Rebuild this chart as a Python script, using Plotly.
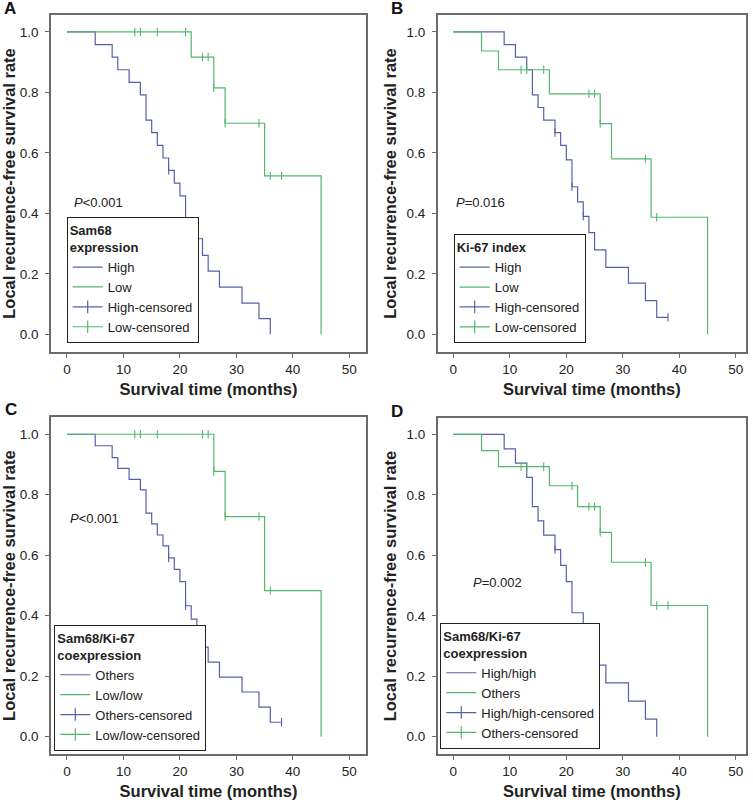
import plotly.graph_objects as go

# ---------------- data ----------------
# Panel A: Sam68 expression
A_high_t = [5, 8, 9, 11, 13, 14, 15, 16, 17, 18, 19, 20, 21, 23, 24, 25, 27, 31, 34, 36]
A_high_s = [0.958, 0.917, 0.875, 0.833, 0.792, 0.708, 0.667, 0.625, 0.583, 0.542, 0.5, 0.458,
            0.361, 0.316, 0.261, 0.209, 0.156, 0.103, 0.052, 0.0]
A_high_ct = [18, 23]
A_high_cs = [0.542, 0.316]
A_low_t = [22, 26, 28, 35, 45]
A_low_s = [0.917, 0.815, 0.698, 0.524, 0.0]
A_low_ct = [12, 13, 16, 21, 24, 25, 26, 28, 34, 36, 38]
A_low_cs = [1, 1, 1, 1, 0.917, 0.917, 0.815, 0.698, 0.698, 0.524, 0.524]

# Panel B: Ki-67 index
B_high_t = [9, 11, 13, 14, 15, 16, 18, 19, 20, 21, 22, 23, 24, 25, 27, 31, 34, 36, 38]
B_high_s = [0.958, 0.917, 0.875, 0.792, 0.75, 0.708, 0.667, 0.625, 0.577, 0.488, 0.438, 0.39,
            0.336, 0.279, 0.221, 0.169, 0.111, 0.056, 0.056]
B_high_ct = [18, 21, 23, 38]
B_high_cs = [0.667, 0.488, 0.39, 0.056]
B_low_t = [5, 8, 17, 26, 28, 35, 45]
B_low_s = [0.937, 0.875, 0.795, 0.697, 0.58, 0.387, 0.0]
B_low_ct = [12, 13, 16, 24, 25, 26, 34, 36]
B_low_cs = [0.875, 0.875, 0.875, 0.795, 0.795, 0.697, 0.58, 0.387]

# Panel C: Sam68/Ki-67 coexpression (Others vs Low/low)
C_oth_t = [5, 8, 9, 11, 13, 14, 15, 16, 17, 18, 19, 20, 21, 22, 23, 24, 25, 27, 31, 34, 36, 38]
C_oth_s = [0.962, 0.923, 0.887, 0.851, 0.816, 0.739, 0.704, 0.667, 0.631, 0.591, 0.553, 0.513,
           0.433, 0.389, 0.345, 0.296, 0.247, 0.197, 0.148, 0.098, 0.048, 0.048]
C_oth_ct = [18, 21, 23, 38]
C_oth_cs = [0.591, 0.433, 0.345, 0.048]
C_low_t = [26, 28, 35, 45]
C_low_s = [0.877, 0.728, 0.483, 0.0]
C_low_ct = [12, 13, 16, 24, 25, 26, 28, 34, 36]
C_low_cs = [1, 1, 1, 1, 1, 0.877, 0.728, 0.728, 0.483]

# Panel D: Sam68/Ki-67 coexpression (High/high vs Others)
D_hh_t = [9, 11, 13, 14, 15, 16, 18, 19, 20, 21, 23, 24, 25, 27, 31, 34, 36]
D_hh_s = [0.952, 0.905, 0.858, 0.761, 0.714, 0.667, 0.619, 0.567, 0.513, 0.41, 0.36, 0.299,
          0.237, 0.178, 0.118, 0.058, 0.0]
D_hh_ct = [18, 23]
D_hh_cs = [0.619, 0.36]
D_oth_t = [5, 8, 17, 22, 26, 28, 35, 45]
D_oth_s = [0.946, 0.893, 0.83, 0.761, 0.676, 0.577, 0.434, 0.0]
D_oth_ct = [12, 13, 16, 21, 24, 25, 26, 34, 36, 38]
D_oth_cs = [0.893, 0.893, 0.893, 0.83, 0.761, 0.761, 0.676, 0.577, 0.434, 0.434]

x_ticks = [0, 10, 20, 30, 40, 50]
y_ticks = [0.0, 0.2, 0.4, 0.6, 0.8, 1.0]

panel_labels = ["A", "B", "C", "D"]
legend_titles = ["Sam68<br>expression", "Ki-67 index", "Sam68/Ki-67<br>coexpression",
                 "Sam68/Ki-67<br>coexpression"]
group_names = [("High", "Low"), ("High", "Low"), ("Others", "Low/low"), ("High/high", "Others")]
p_texts = ["<i>P</i>&lt;0.001", "<i>P</i>=0.016", "<i>P</i>&lt;0.001", "<i>P</i>=0.002"]
p_pos = [(0.9, 0.435), (0.2, 0.435), (0.25, 0.722), (3.1, 0.509)]

# ---------------- style ----------------
BLUE = "#5660aa"
GREEN = "#52b86c"
FONT = "Liberation Sans, Arial, sans-serif"
FRAME = "#6b6b6b"

W, H = 753, 800
# plot frames in pixels: (left, right, top, bottom)
frames = [(51, 366, 15, 352), (437.7, 746, 15, 352), (51, 366, 417.3, 754), (437.7, 746, 418, 754)]
xranges = [(-2.83, 52.95), (-2.76, 51.8), (-2.83, 52.95), (-2.76, 51.8)]
yranges = [(-0.0586, 1.056), (-0.0586, 1.056), (-0.057, 1.056), (-0.057, 1.054)]
legend_pos = [(66.7, 343.3), (453.7, 343.3), (54.3, 751), (440.3, 749)]   # left, bottom
label_pos = [(2, 9), (389, 9), (3, 410), (389, 411)]

panels = [
    (A_high_t, A_high_s, A_high_ct, A_high_cs, A_low_t, A_low_s, A_low_ct, A_low_cs),
    (B_high_t, B_high_s, B_high_ct, B_high_cs, B_low_t, B_low_s, B_low_ct, B_low_cs),
    (C_oth_t, C_oth_s, C_oth_ct, C_oth_cs, C_low_t, C_low_s, C_low_ct, C_low_cs),
    (D_hh_t, D_hh_s, D_hh_ct, D_hh_cs, D_oth_t, D_oth_s, D_oth_ct, D_oth_cs),
]

fig = go.Figure()
layout = {}
annotations = []

for i, (t1, s1, ct1, cs1, t2, s2, ct2, cs2) in enumerate(panels):
    n = i + 1
    xa = "x" if n == 1 else f"x{n}"
    ya = "y" if n == 1 else f"y{n}"
    lg = "legend" if n == 1 else f"legend{n}"
    g1, g2 = group_names[i]
    for (t, s, ct, cs, col, name) in [(t1, s1, ct1, cs1, BLUE, g1), (t2, s2, ct2, cs2, GREEN, g2)]:
        fig.add_trace(go.Scatter(
            x=[0] + t, y=[1.0] + s, mode="lines", line=dict(color=col, width=1.2, shape="hv"),
            name=name, xaxis=xa, yaxis=ya, legend=lg, showlegend=False, hoverinfo="skip"))
        fig.add_trace(go.Scatter(
            x=ct, y=cs, mode="markers",
            marker=dict(symbol="line-ns", size=6, line=dict(color=col, width=1.1), color=col),
            name=name + "-censored", xaxis=xa, yaxis=ya, legend=lg, showlegend=False,
            hoverinfo="skip"))
    # legend entries
    for (col, name) in [(BLUE, g1), (GREEN, g2)]:
        fig.add_trace(go.Scatter(x=[None], y=[None], mode="lines",
                                 line=dict(color=col, width=1.2), name=name,
                                 xaxis=xa, yaxis=ya, legend=lg))
    for (col, name) in [(BLUE, g1), (GREEN, g2)]:
        fig.add_trace(go.Scatter(x=[None], y=[None], mode="lines+markers",
                                 line=dict(color=col, width=1.2),
                                 marker=dict(symbol="line-ns", size=9,
                                             line=dict(color=col, width=1.2)),
                                 name=name + "-censored", xaxis=xa, yaxis=ya, legend=lg))

    l, r, tp, bt = frames[i]
    axis_common = dict(showline=True, mirror=True, linecolor=FRAME, linewidth=1.5,
                       ticks="outside", ticklen=4, tickcolor=FRAME, tickwidth=1.2,
                       showgrid=False, zeroline=False, automargin=False,
                       tickfont=dict(family=FONT, size=13.5, color="#222"))
    layout["xaxis" if n == 1 else f"xaxis{n}"] = dict(
        domain=[l / W, r / W], anchor=ya, range=list(xranges[i]),
        tickvals=x_ticks, ticktext=[str(v) for v in x_ticks],
        title=dict(text="<b>Survival time (months)</b>", standoff=7,
                   font=dict(family=FONT, size=16.5, color="#222")),
        **axis_common)
    layout["yaxis" if n == 1 else f"yaxis{n}"] = dict(
        domain=[1 - bt / H, 1 - tp / H], anchor=xa, range=list(yranges[i]),
        tickvals=y_ticks, ticktext=[f"{v:.1f}" for v in y_ticks],
        ticklabelstandoff=4,
        title=dict(text="<b>Local recurrence-free survival rate</b>", standoff=6,
                   font=dict(family=FONT, size=16.5, color="#222")),
        **axis_common)
    lx, ly = legend_pos[i]
    layout[lg] = dict(
        x=lx / W, y=1 - ly / H, xanchor="left", yanchor="bottom",
        bgcolor="white", bordercolor="#222", borderwidth=1,
        font=dict(family=FONT, size=13, color="#222"),
        title=dict(text="<b>" + legend_titles[i] + "</b>",
                   font=dict(family=FONT, size=13, color="#222")),
        itemwidth=30, tracegroupgap=0)
    px, py = label_pos[i]
    annotations.append(dict(text="<b>" + panel_labels[i] + "</b>", xref="paper", yref="paper",
                            x=px / W, y=1 - py / H, xanchor="left", yanchor="middle",
                            showarrow=False, font=dict(family=FONT, size=17, color="#111")))
    ppx, ppy = p_pos[i]
    annotations.append(dict(text=p_texts[i], xref=xa, yref=ya, x=ppx, y=ppy,
                            xanchor="left", yanchor="middle", showarrow=False,
                            font=dict(family=FONT, size=13, color="#222")))

fig.update_layout(width=W, height=H, margin=dict(l=0, r=0, t=0, b=0),
                  paper_bgcolor="white", plot_bgcolor="white",
                  annotations=annotations, **layout)

fig.write_html("out.html", config={"displayModeBar": False},
               post_script="document.body.style.margin='0px';")
